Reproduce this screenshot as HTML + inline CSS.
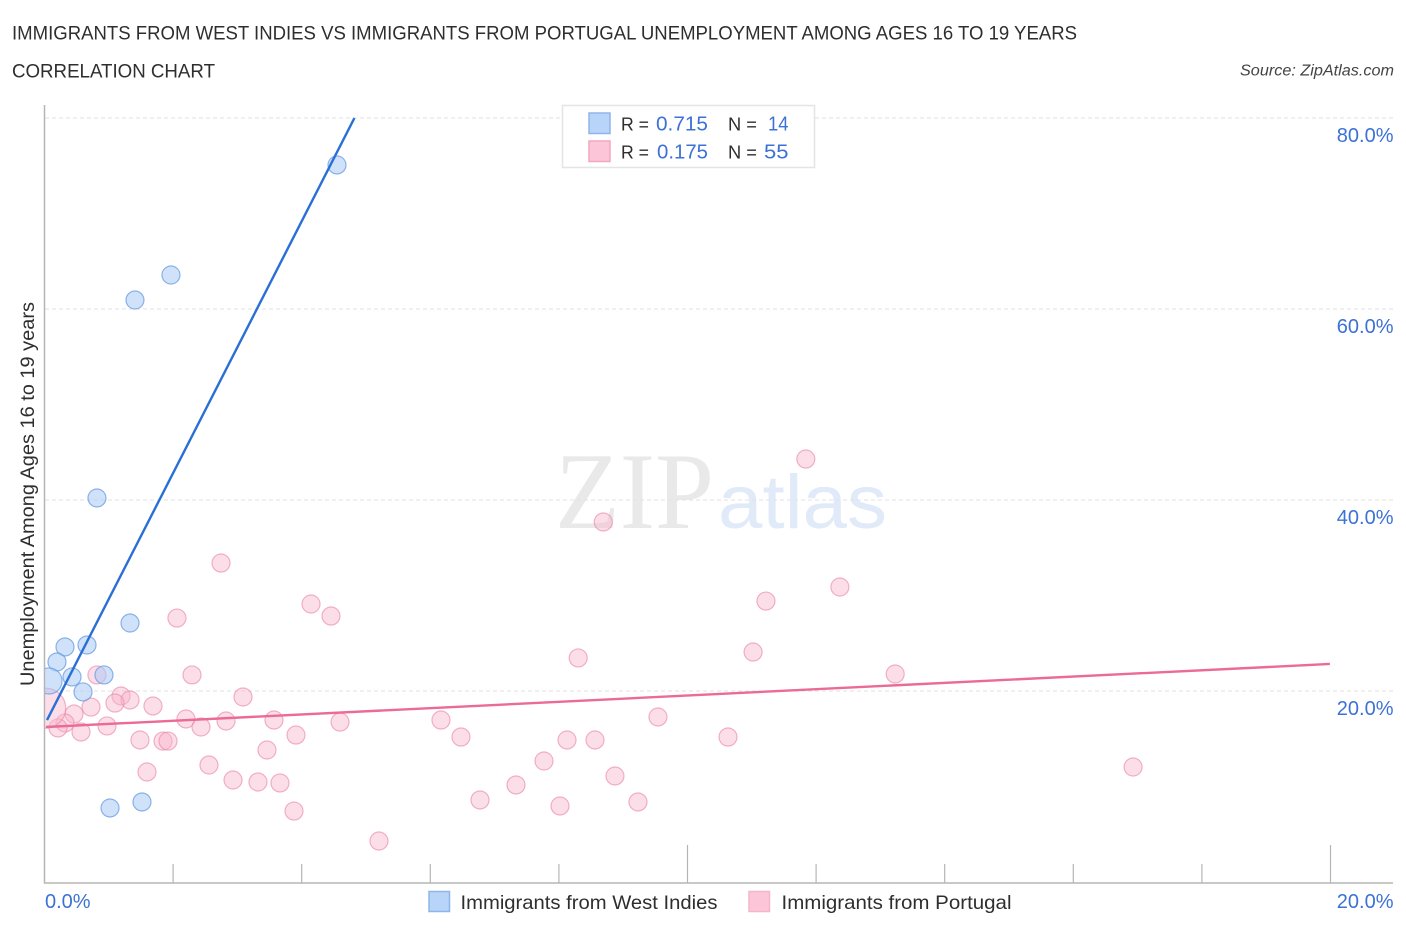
<!DOCTYPE html>
<html lang="en">
<head>
<meta charset="utf-8">
<title>Immigrants from West Indies vs Immigrants from Portugal Correlation Chart</title>
<style>
html,body{margin:0;padding:0;background:#fff;width:1406px;height:930px;overflow:hidden}
svg{display:block;font-family:"Liberation Sans",sans-serif}
</style>
</head>
<body>
<svg id="chart" xmlns="http://www.w3.org/2000/svg" width="1406" height="930" viewBox="0 0 1406 930">
  <defs><clipPath id="plot-clip"><rect x="45" y="100" width="1350" height="783"/></clipPath></defs>
  <rect width="1406" height="930" fill="#fff"/>
  <text x="12" y="39.5" font-size="19" fill="#2e2e2e" textLength="1065" lengthAdjust="spacingAndGlyphs">IMMIGRANTS FROM WEST INDIES VS IMMIGRANTS FROM PORTUGAL UNEMPLOYMENT AMONG AGES 16 TO 19 YEARS</text>
  <text x="12" y="77.5" font-size="19" fill="#2e2e2e" textLength="203" lengthAdjust="spacingAndGlyphs">CORRELATION CHART</text>
  <text x="1394" y="75.5" font-size="15.5" font-style="italic" fill="#444" text-anchor="end" textLength="154" lengthAdjust="spacingAndGlyphs">Source: ZipAtlas.com</text>
  <g>
    <text x="555" y="528" font-family="'Liberation Serif',serif" font-size="109" fill="#e9e9e9" textLength="159" lengthAdjust="spacingAndGlyphs">ZIP</text>
    <text x="718" y="528" font-size="76" fill="#e0eaf8" textLength="169" lengthAdjust="spacingAndGlyphs">atlas</text>
  </g>
  <g id="grid"></g>
  <g id="axes"></g>
  <text transform="translate(34 686) rotate(-90)" font-size="19" fill="#2e2e2e" textLength="384" lengthAdjust="spacingAndGlyphs">Unemployment Among Ages 16 to 19 years</text>
  <g id="marks" clip-path="url(#plot-clip)"></g>
  <g id="trends"></g>
  <g>
    <rect x="562.5" y="105.5" width="252" height="62" fill="#fff" stroke="#e4e4e4" stroke-width="1.5"/>
    <rect x="589" y="113" width="21" height="20.5" fill="#b9d4f9" stroke="#8fb5e8" stroke-width="1.5"/>
    <rect x="589" y="141" width="21" height="20.5" fill="#fcc6d8" stroke="#f4a6c0" stroke-width="1.5"/>
    <g font-size="20">
      <text x="621" y="130.5" font-size="18.5" fill="#2e2e2e" textLength="28" lengthAdjust="spacingAndGlyphs">R =</text>
      <text x="656" y="130.5" fill="#3c72d6" textLength="52" lengthAdjust="spacingAndGlyphs">0.715</text>
      <text x="728" y="130.5" font-size="18.5" fill="#2e2e2e" textLength="29" lengthAdjust="spacingAndGlyphs">N =</text>
      <text x="768" y="130.5" fill="#3c72d6" textLength="20.5" lengthAdjust="spacingAndGlyphs">14</text>
      <text x="621" y="158.5" font-size="18.5" fill="#2e2e2e" textLength="28" lengthAdjust="spacingAndGlyphs">R =</text>
      <text x="657" y="158.5" fill="#3c72d6" textLength="51" lengthAdjust="spacingAndGlyphs">0.175</text>
      <text x="728" y="158.5" font-size="18.5" fill="#2e2e2e" textLength="29" lengthAdjust="spacingAndGlyphs">N =</text>
      <text x="764" y="158.5" fill="#3c72d6" textLength="24.5" lengthAdjust="spacingAndGlyphs">55</text>
    </g>
  </g>
  <g>
    <rect x="429" y="891.5" width="20.5" height="20" fill="#b9d4f9" stroke="#8fb5e8" stroke-width="1.5"/>
    <text x="460.5" y="909" font-size="19.5" fill="#2e2e2e" textLength="257" lengthAdjust="spacingAndGlyphs">Immigrants from West Indies</text>
    <rect x="749" y="891.5" width="20.5" height="20" fill="#fcc6d8" stroke="#f4b6cb" stroke-width="1.5"/>
    <text x="781.5" y="909" font-size="19.5" fill="#2e2e2e" textLength="230" lengthAdjust="spacingAndGlyphs">Immigrants from Portugal</text>
  </g>
</svg>
<script>
const yTickValues = [20, 40, 60, 80];
const yTickLabels = ["20.0%", "40.0%", "60.0%", "80.0%"];
const xTickValues = [0, 2, 4, 6, 8, 10, 12, 14, 16, 18, 20];
const xMajorTicks = [10, 20];
const xEdgeLabels = ["0.0%", "20.0%"];

const westIndiesX = [4.549, 1.967, 1.407, 0.816, 1.330, 0.661, 0.319, 0.194, 0.428, 0.925, 0.599, 0.07, 1.019, 1.516];
const westIndiesY = [75.08, 63.56, 60.94, 40.21, 27.12, 24.82, 24.61, 23.04, 21.47, 21.68, 19.90, 21.05, 7.75, 8.38];
const westIndiesWeight = [1, 1, 1, 1, 1, 1, 1, 1, 1, 1, 1, 2.1, 1, 1];

const portugalX = [11.84, 8.69, 2.745, 12.37, 11.22, 4.145, 4.456, 2.06, 8.30, 11.02, 2.294, 13.23, 0.816, 3.087, 1.19, 1.33, 1.096, 0.723, 1.687, 0.459, 0.319, 0.21, 0.568, 0.972, 2.2, 2.823, 3.569, 2.434, 4.596, 6.166, 9.541, 3.911, 6.477, 1.485, 1.843, 1.921, 3.46, 8.126, 8.561, 10.63, 7.768, 2.558, 1.594, 2.932, 3.32, 3.662, 8.872, 7.333, 16.93, 6.773, 9.23, 8.017, 3.88, 5.202, 0.02];
const portugalY = [44.29, 37.70, 33.40, 30.89, 29.42, 29.11, 27.85, 27.64, 23.46, 24.08, 21.68, 21.78, 21.68, 19.37, 19.48, 19.06, 18.74, 18.32, 18.43, 17.59, 16.65, 16.13, 15.71, 16.34, 17.07, 16.86, 16.96, 16.23, 16.75, 16.96, 17.28, 15.39, 15.18, 14.87, 14.76, 14.76, 13.82, 14.87, 14.87, 15.18, 12.67, 12.25, 11.52, 10.68, 10.47, 10.37, 11.10, 10.16, 12.04, 8.59, 8.38, 7.96, 7.43, 4.29, 18.2];
const portugalWeight = [1, 1, 1, 1, 1, 1, 1, 1, 1, 1, 1, 1, 1, 1, 1, 1, 1, 1, 1, 1, 1, 1, 1, 1, 1, 1, 1, 1, 1, 1, 1, 1, 1, 1, 1, 1, 1, 1, 1, 1, 1, 1, 1, 1, 1, 1, 1, 1, 1, 1, 1, 1, 1, 1, 4.9];

const westIndiesTrendX = [0.039, 4.82];
const westIndiesTrendY = [16.96, 80.0];
const portugalTrendX = [0.023, 19.99];
const portugalTrendY = [16.23, 22.83];

const NS = "http://www.w3.org/2000/svg";
const xScale = v => 44.5 + v * 64.3;
const yScale = v => 882 - v * 9.55;
const rScale = w => 9 * Math.sqrt(w);
const make = (parent, tag, attrs) => {
  const el = document.createElementNS(NS, tag);
  for (const k in attrs) el.setAttribute(k, attrs[k]);
  parent.appendChild(el);
  return el;
};
const grid = document.getElementById("grid");
const axes = document.getElementById("axes");
const marks = document.getElementById("marks");
const trends = document.getElementById("trends");

yTickValues.forEach((v, i) => {
  const line = make(grid, "line", {x1: 45, x2: 1393, y1: yScale(v), y2: yScale(v), stroke: "#e2e2e2", "stroke-width": 1, "stroke-dasharray": "4 3"});
  
  
  const label = make(axes, "text", {x: 1393.5, y: yScale(v) + 24, "text-anchor": "end", "font-size": 20, fill: "#3c72d6"});
  label.textContent = yTickLabels[i];
  
  
});
const yAxis = make(axes, "line", {x1: 44.5, x2: 44.5, y1: 105, y2: 883.5, stroke: "#b5b5b5", "stroke-width": 1.5});


const xAxis = make(axes, "line", {x1: 44, x2: 1393, y1: 883, y2: 883, stroke: "#b5b5b5", "stroke-width": 1.5});


xTickValues.slice(1).forEach(v => {
  const top = xMajorTicks.includes(v) ? 845 : 864;
  const tick = make(axes, "line", {x1: xScale(v), x2: xScale(v), y1: top, y2: 883, stroke: "#b5b5b5", "stroke-width": 1.2});
  
  
});
const xLabelLeft = make(axes, "text", {x: 45, y: 908, "font-size": 20, fill: "#3c72d6"});
xLabelLeft.textContent = xEdgeLabels[0];


const xLabelRight = make(axes, "text", {x: 1393.5, y: 908, "text-anchor": "end", "font-size": 20, fill: "#3c72d6"});
xLabelRight.textContent = xEdgeLabels[1];



portugalX.forEach((v, i) => {
  const dot = make(marks, "circle", {cx: xScale(v), cy: yScale(portugalY[i]), r: rScale(portugalWeight[i]), fill: "#f9b6cc", "fill-opacity": 0.45, stroke: "#e98bab", "stroke-opacity": 0.65, "stroke-width": 1.2});
  
  
});
westIndiesX.forEach((v, i) => {
  const dot = make(marks, "circle", {cx: xScale(v), cy: yScale(westIndiesY[i]), r: rScale(westIndiesWeight[i]), fill: "#a9cbf6", "fill-opacity": 0.55, stroke: "#5f97de", "stroke-opacity": 0.7, "stroke-width": 1.2});
  
  
});

const blueTrend = make(trends, "line", {x1: xScale(westIndiesTrendX[0]), y1: yScale(westIndiesTrendY[0]), x2: xScale(westIndiesTrendX[1]), y2: yScale(westIndiesTrendY[1]), stroke: "#2a6fd6", "stroke-width": 2.4});


const pinkTrend = make(trends, "line", {x1: xScale(portugalTrendX[0]), y1: yScale(portugalTrendY[0]), x2: xScale(portugalTrendX[1]), y2: yScale(portugalTrendY[1]), stroke: "#ec6a96", "stroke-width": 2.4});


</script>
</body>
</html>
